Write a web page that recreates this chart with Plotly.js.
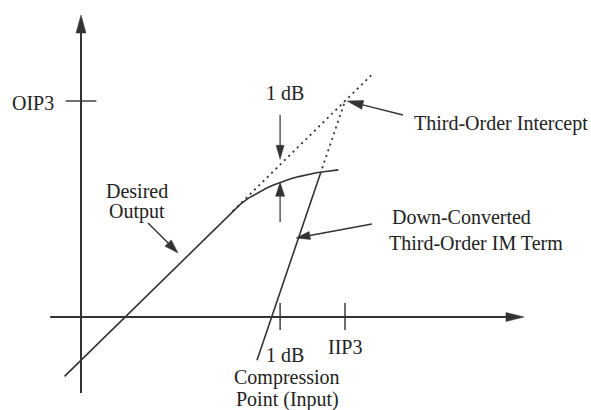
<!DOCTYPE html>
<html>
<head>
<meta charset="utf-8">
<script src="https://cdn.plot.ly/plotly-3.0.1.min.js"></script>
<style>
  html, body { margin: 0; padding: 0; background: #ffffff; }
  #chart { width: 591px; height: 410px; }
</style>
</head>
<body>
<div id="chart"></div>
<script>
// Input level and output level, in dB (arbitrary reference).
// Desired (fundamental) output: linear with unity slope, then compressing.
const desiredIn  = [-1.5, 13.8, 14.5, 15.2, 16.0, 16.8, 17.5, 18.1, 19.0, 19.8, 20.6, 21.4, 22.4, 23.4];
const desiredOut = [-5.5, 9.8, 10.45, 10.98, 11.48, 11.9, 12.22, 12.47, 12.78, 13.0, 13.19, 13.35, 13.5, 13.62];

// Extrapolation of the linear part of the desired output.
const desiredExtIn  = [13.8, 26.5];
const desiredExtOut = [9.8, 22.5];

// Down-converted third-order IM term (slope 3): measured part and extrapolation.
const im3In  = [16.0, 21.75];
const im3Out = [-4.0, 13.25];
const im3ExtIn  = [21.75, 24.0];
const im3ExtOut = [13.25, 20.0];

// Characteristic points.
const IIP3 = 24.0;   // input third-order intercept
const OIP3 = 20.0;   // output third-order intercept
const P1dB = 18.1;   // input 1 dB compression point
const P1dBLinear = 14.1;     // extrapolated linear output at P1dB
const P1dBActual = 12.47;    // compressed output at P1dB

// Axis extents.
const xAxisStart = -2.8, xAxisEnd = 40.27;
const yAxisStart = -7.04, yAxisEnd = 27.96;

// Plot ranges (the plot area fills the whole figure).
const W = 591, H = 410;
const xr = [-81 / 11, 510 / 11];
const yr = [-93 / 10.8, 317 / 10.8];
const sx = W / (xr[1] - xr[0]);
const sy = H / (yr[1] - yr[0]);

const ink = '#333333';
const lineW = 1.6;
const dotted = '2px,4px';

const traces = [
  { x: desiredIn, y: desiredOut, mode: 'lines',
    line: { color: ink, width: lineW }, hoverinfo: 'skip' },
  { x: desiredExtIn, y: desiredExtOut, mode: 'lines',
    line: { color: ink, width: 1.8, dash: dotted }, hoverinfo: 'skip' },
  { x: im3In, y: im3Out, mode: 'lines',
    line: { color: ink, width: lineW }, hoverinfo: 'skip' },
  { x: im3ExtIn, y: im3ExtOut, mode: 'lines',
    line: { color: ink, width: 1.8, dash: dotted }, hoverinfo: 'skip' }
];

const shapes = [];

// A straight arrow: shaft from tail to the base of a filled triangular head.
function arrow(x0, y0, x1, y1, len, width, lw) {
  const dxp = (x1 - x0) * sx, dyp = (y1 - y0) * sy;
  const d = Math.hypot(dxp, dyp);
  const ux = dxp / d, uy = dyp / d;
  const bx = x1 - (len * ux) / sx, by = y1 - (len * uy) / sy;
  const px = -uy, py = ux;
  const hw = width / 2;
  const ax = bx + (hw * px) / sx, ay = by + (hw * py) / sy;
  const cx = bx - (hw * px) / sx, cy = by - (hw * py) / sy;
  shapes.push({ type: 'line', xref: 'x', yref: 'y', x0: x0, y0: y0, x1: bx, y1: by,
                line: { color: ink, width: lw } });
  shapes.push({ type: 'path', xref: 'x', yref: 'y',
                path: `M${x1},${y1} L${ax},${ay} L${cx},${cy} Z`,
                fillcolor: ink, line: { color: ink, width: 0.5 } });
}

function segment(x0, y0, x1, y1, lw) {
  shapes.push({ type: 'line', xref: 'x', yref: 'y', x0, y0, x1, y1,
                line: { color: ink, width: lw } });
}

// Axes with arrowheads.
arrow(0, yAxisStart, 0, yAxisEnd, 18, 10, 2);
arrow(xAxisStart, 0, xAxisEnd, 0, 18, 9, 2);

// Tick marks at OIP3, P1dB and IIP3.
segment(-1.4, OIP3, 1.4, OIP3, 1.4);
segment(P1dB, -1.2, P1dB, 1.3, 1.4);
segment(IIP3, -1.2, IIP3, 1.3, 1.4);

// 1 dB gap arrows.
arrow(P1dB, 18.7, P1dB, P1dBLinear + 0.5, 14, 8, 1.2);
arrow(P1dB, 8.8, P1dB, P1dBActual, 14, 9, 1.2);

// Pointers from the labels.
arrow(29.27, 18.7, IIP3 + 0.2, OIP3, 16, 9, 1.4);
arrow(6.09, 8.7, 8.82, 5.93, 14, 9, 1.4);
arrow(26.45, 8.61, 19.55, 7.31, 14, 8, 1.4);

const textFont = { family: 'Liberation Serif, Times New Roman, serif', size: 20, color: '#222222' };
function label(text, x, y, xanchor) {
  return { text, x, y, xref: 'x', yref: 'y', showarrow: false,
           xanchor: xanchor || 'center', yanchor: 'middle', font: textFont };
}

const annotations = [
  label('OIP3', -2.3, OIP3 - 0.2, 'right'),
  label('1 dB', 18.55, 20.74),
  label('Third-Order Intercept', 30.09, 17.96, 'left'),
  label('Desired', 5.09, 11.65),
  label('Output', 5.09, 9.75),
  label('Down-Converted', 28.09, 9.26, 'left'),
  label('Third-Order IM Term', 27.82, 6.85, 'left'),
  label('1 dB', 18.55, -3.52),
  label('Compression', 18.73, -5.6),
  label('Point (Input)', 18.73, -7.68),
  label('IIP3', IIP3, -2.78)
];

const hidden = { showgrid: false, zeroline: false, showline: false,
                 showticklabels: false, ticks: '', fixedrange: true };

const layout = {
  width: W, height: H, autosize: false,
  margin: { l: 0, r: 0, t: 0, b: 0, pad: 0 },
  paper_bgcolor: '#ffffff', plot_bgcolor: '#ffffff',
  showlegend: false,
  xaxis: Object.assign({ range: xr }, hidden),
  yaxis: Object.assign({ range: yr }, hidden),
  shapes, annotations
};

Plotly.newPlot('chart', traces, layout, { staticPlot: true, displayModeBar: false });
</script>
</body>
</html>
